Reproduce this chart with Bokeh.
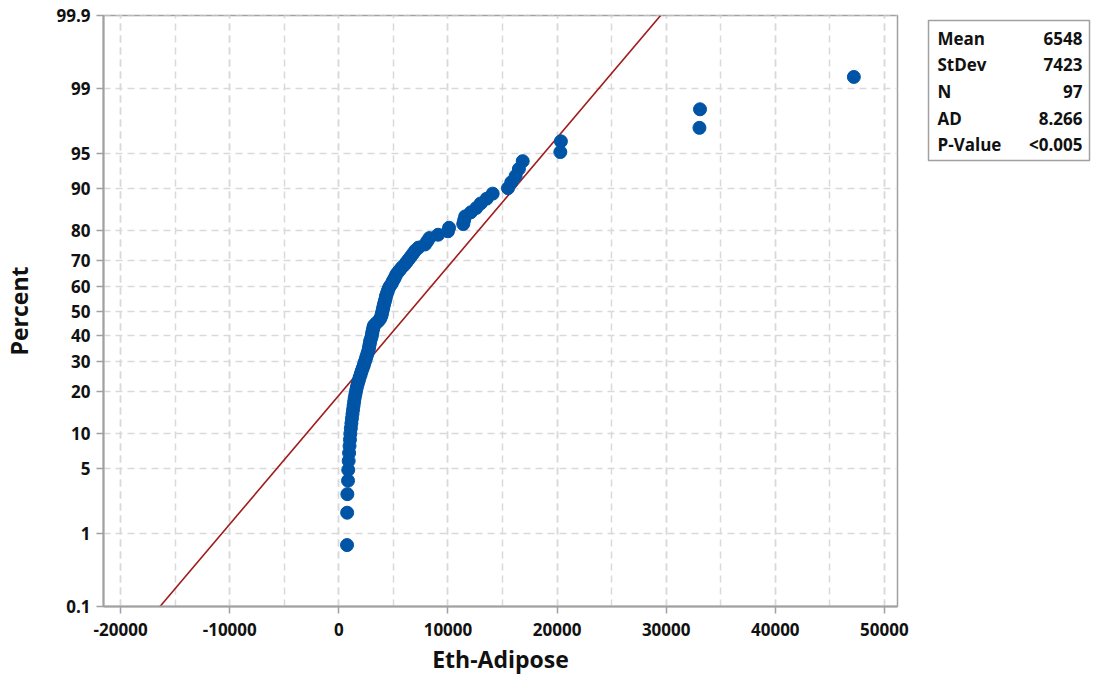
from statistics import NormalDist
from bokeh.plotting import figure
from bokeh.layouts import row
from bokeh.models import (Range1d, FixedTicker, ColumnDataSource)
from bokeh.core.properties import value
from bokeh.embed import file_html
from bokeh.resources import INLINE

# ---- data (Eth-Adipose, sorted) ----
eth_adipose = [
    750, 760, 780,
    840, 860, 900, 940, 980, 1020,
    1050, 1100, 1150, 1200, 1250,
    1300, 1350, 1400, 1450, 1520,
    1580, 1650, 1730, 1820, 1900,
    2000, 2080, 2180, 2280, 2350,
    2450, 2520, 2600, 2680, 2750,
    2780, 2840, 2870, 2950, 3020,
    3050, 3100, 3150, 3200, 3400,
    3650, 3800, 3900, 3950, 4000,
    4050, 4100, 4150, 4220, 4280,
    4320, 4400, 4480, 4560, 4680,
    4850, 4950, 5100, 5200, 5350,
    5550, 5750, 6000, 6200, 6400,
    6600, 6800, 7000, 7300, 7900,
    8100, 8300, 9100, 10000, 10100,
    11400, 11480, 11580, 12100, 12600,
    13000, 13550, 14100, 15500, 15800,
    16200, 16500, 16850, 20300, 20350,
    33050, 33100, 47200,
]
stat_names = ["Mean", "StDev", "N", "AD", "P-Value"]
stat_values = ["6548", "7423", "97", "8.266", "<0.005"]
mean_val = 6548
sd_val = 7423
pct_ticks = [0.1, 1, 5, 10, 20, 30, 40, 50, 60, 70, 80, 90, 95, 99, 99.9]
x_ticks = [-20000, -10000, 0, 10000, 20000, 30000, 40000, 50000]
x_grid = [-20000, -15000, -10000, -5000, 0, 5000, 10000, 15000, 20000,
          25000, 30000, 35000, 40000, 45000, 50000]

nd = NormalDist()
n = len(eth_adipose)
xs = sorted(eth_adipose)
zs = [nd.inv_cdf((i + 1 - 0.3) / (n + 0.4)) for i in range(n)]

zlo = nd.inv_cdf(0.001)
zhi = nd.inv_cdf(0.999)
eps = 1e-6

FONT = "Open Sans"
GRAY = "#a0a0a0"
TXT = "#111111"

p = figure(width=916, height=682, output_backend="svg", toolbar_location=None,
           x_range=Range1d(-21570, 51200), y_range=Range1d(zlo - eps, zhi + eps),
           min_border_left=98, min_border_right=19, min_border_top=15, min_border_bottom=76)
p.background_fill_color = "white"
p.border_fill_color = "white"
p.outline_line_color = GRAY
p.outline_line_width = 1.5

tick_z = [nd.inv_cdf(t / 100) for t in pct_ticks]
p.xaxis.ticker = FixedTicker(ticks=x_ticks, minor_ticks=x_grid)
p.xaxis.major_label_overrides = {t: str(t) for t in x_ticks}
p.yaxis.ticker = FixedTicker(ticks=tick_z)
p.yaxis.major_label_overrides = {zz: (str(t) if t != int(t) else str(int(t))) for zz, t in zip(tick_z, pct_ticks)}
for ax in (p.xaxis, p.yaxis):
    ax.axis_line_color = GRAY
    ax.axis_line_width = 2
    ax.major_tick_line_color = GRAY
    ax.major_tick_line_width = 1.5
    ax.major_tick_out = 7
    ax.major_tick_in = 0
    ax.minor_tick_line_color = None
    ax.major_label_text_font = FONT
    ax.major_label_text_font_size = "17px"
    ax.major_label_text_font_style = "bold"
    ax.major_label_text_color = TXT
    ax.axis_label_text_font = FONT
    ax.axis_label_text_font_size = "23px"
    ax.axis_label_text_font_style = "bold"
    ax.axis_label_text_color = TXT
p.xaxis.axis_label = "Eth-Adipose"
p.yaxis.axis_label = "Percent"
p.xaxis.major_label_standoff = 9
p.yaxis.major_label_standoff = 6
p.xaxis.axis_label_standoff = 4
p.yaxis.axis_label_standoff = 18

p.xgrid.grid_line_color = "#d9d9d9"
p.xgrid.grid_line_dash = "7 5"
p.xgrid.grid_line_width = 1.5
p.xgrid.minor_grid_line_color = "#d9d9d9"
p.xgrid.minor_grid_line_dash = "7 5"
p.xgrid.minor_grid_line_width = 1.5
p.ygrid.grid_line_color = "#d9d9d9"
p.ygrid.grid_line_dash = "7 5"
p.ygrid.grid_line_width = 1.5

# fitted normal line
p.line(x=[mean_val + sd_val * zlo, mean_val + sd_val * zhi], y=[zlo, zhi],
       line_color="#a01c1c", line_width=1.6)

src = ColumnDataSource(dict(x=xs, y=zs))
p.scatter("x", "y", source=src, size=13, fill_color="#0054a6", line_color="#0054a6")

# ---- stats table panel (its frame is aligned with the main frame: y in page pixels) ----
s = figure(width=175, height=682, output_backend="svg", toolbar_location=None,
           x_range=Range1d(0, 175), y_range=Range1d(606, 15),
           min_border_left=0, min_border_right=0, min_border_top=15, min_border_bottom=76)
s.axis.visible = False
s.grid.visible = False
s.outline_line_color = None
s.background_fill_color = "white"
s.border_fill_color = "white"
s.quad(left=12, right=173, top=20, bottom=160, fill_color="white",
       line_color=GRAY, line_width=1.5)
row_y = [38, 64, 91, 118, 144]
s.text(x=[21] * 5, y=row_y, text=stat_names, text_font=value(FONT), text_font_size="17px",
       text_font_style="bold", text_color=TXT, text_baseline="middle", text_align="left")
s.text(x=[166] * 5, y=row_y, text=stat_values, text_font=value(FONT), text_font_size="17px",
       text_font_style="bold", text_color=TXT, text_baseline="middle", text_align="right")

layout = row(p, s, spacing=0)
open("out.html", "w").write(file_html(layout, INLINE))
